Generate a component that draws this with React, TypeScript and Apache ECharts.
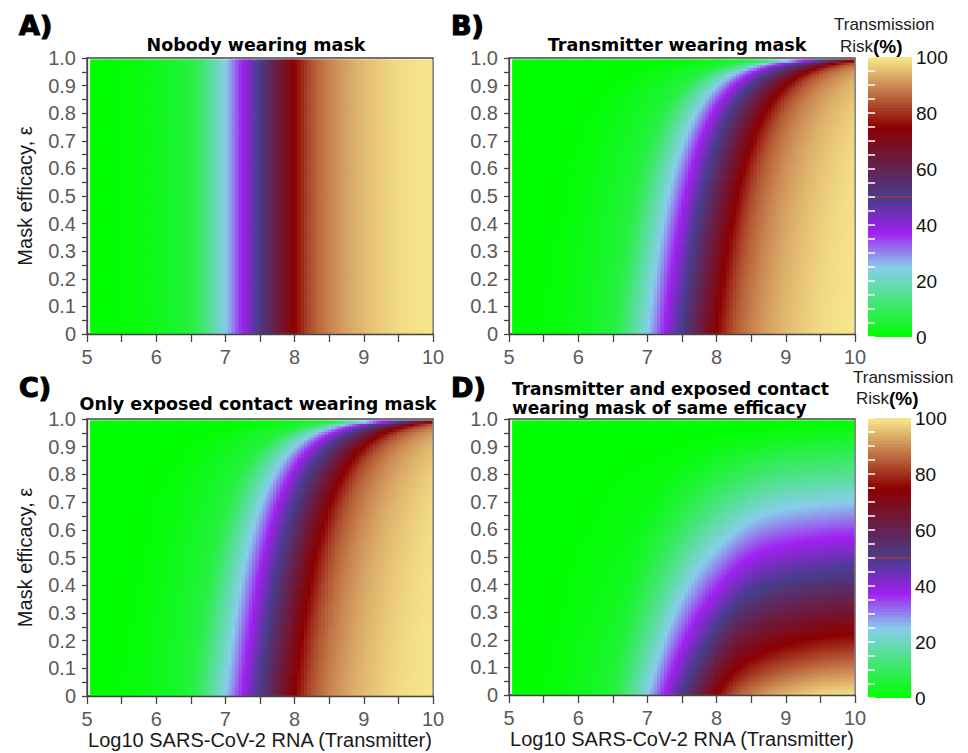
import React, { useEffect, useRef } from "react";
import * as echarts from "echarts";

// ---- Data ----
// Log10 viral load of transmitter (x) and transmission risk (%) with nobody masked (panel A)
const loadPoints = [5, 5.25, 5.5, 5.75, 6, 6.25, 6.5, 6.75, 7, 7.25, 7.5, 7.75, 8, 8.25, 8.5, 8.75, 9, 9.25, 9.5, 9.75, 10];
const riskNoMask = [0, 0.2, 0.5, 1.5, 3, 4.5, 7, 15, 25, 38, 51, 63, 75, 84, 89, 92.5, 95, 97, 98.5, 99.3, 99.8];
// exponent of the extra (1 - ε) attenuation when both wear masks (panel D)
const bothMaskExponent = 1.13;
// tick labels
const loadTicks = [5, 6, 7, 8, 9, 10];
const efficacyTicks = [0, 0.1, 0.2, 0.3, 0.4, 0.5, 0.6, 0.7, 0.8, 0.9, 1.0];
const riskTicks = [0, 20, 40, 60, 80, 100];
// colour ramp, evenly spaced from 0 % to 100 %
const rampColors = ["#00ff00", "#43e675", "#87ceeb", "#a020f0", "#483d8b", "#6a1e45", "#8b0000", "#c17446", "#f8e88c"];
const panelLetters = ["A)", "B)", "C)", "D)"];
const panelTitles = ["Nobody wearing mask", "Transmitter wearing mask", "Only exposed contact wearing mask", "Transmitter and exposed contact\nwearing mask of same efficacy"];
const xName = "Log10 SARS-CoV-2 RNA (Transmitter)";
const yName = "Mask efficacy, ε";

// monotone cubic through the read points
function makeCurve(xs: number[], ys: number[]) {
  const n = xs.length;
  const d: number[] = [];
  for (let i = 0; i < n - 1; i++) d.push((ys[i + 1] - ys[i]) / (xs[i + 1] - xs[i]));
  const m: number[] = new Array(n).fill(0);
  m[0] = d[0];
  m[n - 1] = d[n - 2];
  for (let i = 1; i < n - 1; i++) {
    if (d[i - 1] * d[i] <= 0) m[i] = 0;
    else m[i] = (2 * d[i - 1] * d[i]) / (d[i - 1] + d[i]);
  }
  return (x: number) => {
    if (x <= xs[0]) return ys[0];
    if (x >= xs[n - 1]) return ys[n - 1];
    let i = 0;
    while (i < n - 2 && x > xs[i + 1]) i++;
    const h = xs[i + 1] - xs[i];
    const t = (x - xs[i]) / h;
    const t2 = t * t, t3 = t2 * t;
    return (2 * t3 - 3 * t2 + 1) * ys[i] + (t3 - 2 * t2 + t) * h * m[i] + (-2 * t3 + 3 * t2) * ys[i + 1] + (t3 - t2) * h * m[i + 1];
  };
}
const riskAt = makeCurve(loadPoints, riskNoMask);

const models: ((v: number, e: number) => number)[] = [
  (v) => riskAt(v),
  (v, e) => (e >= 1 ? 0 : riskAt(v + Math.log10(1 - e))),
  (v, e) => (e >= 1 ? 0 : riskAt(v + Math.log10(1 - e))),
  (v, e) => (e >= 1 ? 0 : riskAt(v + Math.log10(1 - e)) * Math.pow(1 - e, bothMaskExponent)),
];

const X0 = 5.045, X1 = 9.98, NC = 99;
const Y0 = 0.003, Y1 = 0.995, NR = 100;
const DX = (X1 - X0) / NC, DY = (Y1 - Y0) / NR;

function buildPanel(model: (v: number, e: number) => number) {
  const out: number[][] = [];
  for (let i = 0; i < NC; i++) {
    const v = X0 + (i + 0.5) * DX;
    for (let j = 0; j < NR; j++) {
      const e = Y0 + (j + 0.5) * DY;
      out.push([v, e, Math.max(0, Math.min(100, model(v, e)))]);
    }
  }
  return out;
}

const SANS = '"Liberation Sans", Arial, sans-serif';
const DEJA = '"DejaVu Sans", Verdana, sans-serif';

function makeRender(dx: number, dy: number) {
  return (params: any, api: any) => {
    const x = api.value(0), y = api.value(1);
    const p0 = api.coord([x - dx / 2, y + dy / 2]);
    const p1 = api.coord([x + dx / 2, y - dy / 2]);
    return {
      type: "rect",
      shape: { x: p0[0], y: p0[1], width: p1[0] - p0[0] + 0.7, height: p1[1] - p0[1] + 0.7 },
      style: { fill: api.visual("color") },
    };
  };
}

export default function App() {
  const ref = useRef<HTMLDivElement>(null);
  useEffect(() => {
    if (!ref.current) return;
    const chart = echarts.init(ref.current, undefined, { renderer: "svg" });
    const grids = [
      { left: 87, top: 58, width: 346, height: 276 },
      { left: 509, top: 58, width: 346, height: 276 },
      { left: 87, top: 419, width: 346, height: 277 },
      { left: 509, top: 419, width: 346, height: 276 },
      { left: 868, top: 57, width: 44, height: 280 },
      { left: 868, top: 418, width: 43, height: 280 },
    ].map((g, i) => ({ ...g, show: i < 4, borderColor: "#444", borderWidth: 1.3, backgroundColor: "transparent" }));

    const xAxes: any[] = [];
    const yAxes: any[] = [];
    for (let i = 0; i < 4; i++) {
      xAxes.push({
        type: "value", gridIndex: i, min: 5, max: 10, interval: 0.5, z: 5,
        axisLine: { show: true, lineStyle: { color: "#444", width: 1.3 } },
        axisTick: { show: true, length: 8, lineStyle: { color: "#444", width: 1.3 } },
        axisLabel: {
          color: "#5a5a5a", fontSize: 20, fontFamily: SANS, margin: 13,
          formatter: (v: number) => (loadTicks.some((t) => Math.abs(t - v) < 1e-6) ? String(Math.round(v)) : ""),
        },
        splitLine: { show: false },
        name: i >= 2 ? xName : "", nameLocation: "middle", nameGap: 34,
        nameTextStyle: { color: "#1a1a1a", fontSize: 20, fontFamily: SANS },
      });
      yAxes.push({
        type: "value", gridIndex: i, min: 0, max: 1, interval: 0.05, z: 5,
        axisLine: { show: true, lineStyle: { color: "#444", width: 1.3 } },
        axisTick: { show: true, length: 5, lineStyle: { color: "#444", width: 1.3 } },
        axisLabel: {
          color: "#5a5a5a", fontSize: 20, fontFamily: SANS, margin: 11,
          formatter: (v: number) => {
            const t = efficacyTicks.find((k) => Math.abs(k - v) < 1e-6);
            if (t === undefined) return "";
            return t === 0 ? "0" : t.toFixed(1);
          },
        },
        splitLine: { show: false },
        name: i % 2 === 0 ? yName : "", nameLocation: "middle", nameGap: 52,
        nameTextStyle: { color: "#1a1a1a", fontSize: 20, fontFamily: SANS },
      });
    }
    for (let c = 0; c < 2; c++) {
      const gi = 4 + c;
      xAxes.push({ type: "value", gridIndex: gi, min: 0, max: 1, show: false });
      const tickStyle = { show: true, inside: true, length: 7, lineStyle: { color: "#ffffff", width: 1.5 } };
      yAxes.push({
        type: "value", gridIndex: gi, min: 0, max: 100, interval: 5, position: "right", z: 5,
        axisLine: { show: false }, axisTick: tickStyle, splitLine: { show: false },
        axisLabel: {
          color: "#111", fontSize: 19, fontFamily: SANS, margin: 4,
          formatter: (v: number) => (riskTicks.includes(Math.round(v)) && Math.abs(v - Math.round(v)) < 1e-6 ? String(Math.round(v)) : ""),
        },
      });
      yAxes.push({
        type: "value", gridIndex: gi, min: 0, max: 100, interval: 5, position: "left", z: 5,
        axisLine: { show: false }, axisTick: tickStyle, splitLine: { show: false }, axisLabel: { show: false },
      });
    }

    const series: any[] = models.map((m, i) => ({
      type: "custom", xAxisIndex: i, yAxisIndex: i, coordinateSystem: "cartesian2d",
      renderItem: makeRender(DX, DY), data: buildPanel(m), encode: { x: 0, y: 1 },
      clip: true, silent: true, progressive: 0, z: 2,
    }));
    const barData: number[][] = [];
    for (let r = 0; r < 100; r++) barData.push([0.5, r + 0.5, r + 0.5]);
    for (let c = 0; c < 2; c++) {
      series.push({
        type: "custom", xAxisIndex: 4 + c, yAxisIndex: 4 + 2 * c, coordinateSystem: "cartesian2d",
        renderItem: makeRender(1, 1), data: barData, encode: { x: 0, y: 1 }, clip: true, silent: true, z: 2,
        markLine: {
          silent: true, symbol: ["none", "none"], label: { show: false },
          lineStyle: { color: "#b0303a", width: 1.5, type: "solid" },
          data: [{ yAxis: 50 }],
        },
      });
    }

    const text = (t: string, x: number, y: number, font: string, align = "left", extra: any = {}) => ({
      type: "text", x, y, silent: true, z: 10,
      style: { text: t, font, fill: "#000", align, verticalAlign: "middle", ...extra },
    });

    const letterFont = `bold 27px ${DEJA}`;
    const titleFont = `bold 17.5px ${DEJA}`;
    const titleFontD = `bold 17px ${DEJA}`;
    const cbTitleFont = `17px ${SANS}`;
    const heavy = { stroke: "#000", lineWidth: 1.2 };
    const riskRich = { rich: { b: { font: `bold 19px ${SANS}`, fill: "#000" } } };

    const graphic = [
      text(panelLetters[0], 19, 25, letterFont, "left", heavy),
      text(panelLetters[1], 451, 25, letterFont, "left", heavy),
      text(panelLetters[2], 19, 387, letterFont, "left", heavy),
      text(panelLetters[3], 451, 387, letterFont, "left", heavy),
      text(panelTitles[0], 256, 45, titleFont, "center"),
      text(panelTitles[1], 677, 45, titleFont, "center"),
      text(panelTitles[2], 258, 404, titleFont, "center"),
      text(panelTitles[3].split("\n")[0], 512, 389, titleFontD, "left"),
      text(panelTitles[3].split("\n")[1], 512, 408, titleFontD, "left"),
      text("Transmission", 834, 24, cbTitleFont, "left", { fill: "#1a1a1a" }),
      text("Risk{b|(%)}", 840, 46, cbTitleFont, "left", { fill: "#1a1a1a", ...riskRich }),
      text("Transmission", 853, 377, cbTitleFont, "left", { fill: "#1a1a1a" }),
      text("Risk{b|(%)}", 856, 398, cbTitleFont, "left", { fill: "#1a1a1a", ...riskRich }),
    ];

    chart.setOption({
      animation: false,
      backgroundColor: "#ffffff",
      grid: grids,
      xAxis: xAxes,
      yAxis: yAxes,
      visualMap: {
        type: "continuous", show: false, min: 0, max: 100, dimension: 2,
        seriesIndex: [0, 1, 2, 3, 4, 5], inRange: { color: rampColors },
      },
      series,
      graphic,
    });
    return () => chart.dispose();
  }, []);
  return <div ref={ref} style={{ position: "absolute", left: 0, top: 0, width: 968, height: 753 }} />;
}
